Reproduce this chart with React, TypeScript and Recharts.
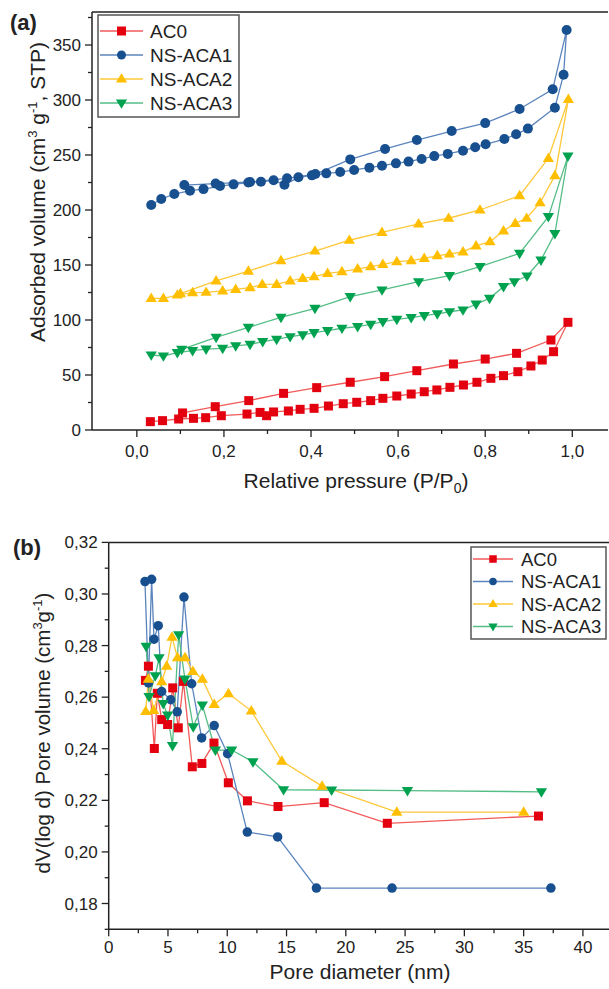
import React from 'react';
import { LineChart, Line, XAxis, YAxis, ReferenceLine, Label } from 'recharts';

const FONT = '"Liberation Sans", Arial, Helvetica, sans-serif';

const seriesNames = ['AC0', 'NS-ACA1', 'NS-ACA2', 'NS-ACA3'];
const markerColors = ['#e3000f', '#174f8f', '#ffbf00', '#00a24f'];
const lineColors = ['#f25a5a', '#5b84bd', '#ffc83a', '#55bd86'];
const markerShapes = ['square', 'circle', 'up', 'down'];

// (a) isotherms: adsorption branch then desorption branch, [P/P0, volume]
const isoAC0: [number, number][] = [
  [0.031, 7.6], [0.059, 8.5], [0.096, 10], [0.13, 10.6], [0.158, 11.2], [0.194, 13], [0.253, 14.5],
  [0.283, 16], [0.298, 13], [0.314, 16.4], [0.348, 17.3], [0.375, 18.8], [0.407, 19.7], [0.44, 21.8],
  [0.474, 23.9], [0.505, 25.2], [0.537, 26.7], [0.565, 28.8], [0.597, 30.9], [0.63, 32.7], [0.66, 34.8],
  [0.689, 36.4], [0.719, 38.8], [0.75, 40.9], [0.781, 43.4], [0.813, 47], [0.842, 49.4], [0.875, 53],
  [0.905, 58.2], [0.931, 63.6], [0.957, 71.2], [0.99, 97.9],
  [0.951, 81.8], [0.872, 69.7], [0.8, 64.5], [0.727, 60], [0.643, 53.9], [0.569, 48.5], [0.49, 43.4],
  [0.413, 38.5], [0.337, 33.3], [0.257, 26.7], [0.18, 21.2], [0.105, 15.5],
];
const isoACA1: [number, number][] = [
  [0.033, 204.5], [0.056, 210], [0.086, 214.5], [0.122, 217.6], [0.153, 219], [0.191, 221.8], [0.222, 223.3],
  [0.256, 225], [0.285, 225.7], [0.314, 227], [0.339, 223], [0.371, 229.7], [0.402, 231.5], [0.435, 233.3],
  [0.467, 234.5], [0.499, 236.4], [0.534, 238.5], [0.563, 240.3], [0.595, 242.4], [0.624, 244], [0.654, 246.4],
  [0.683, 249], [0.714, 251], [0.749, 253.9], [0.777, 257], [0.801, 259.7], [0.844, 264.5], [0.871, 268.8],
  [0.898, 274], [0.96, 293], [0.98, 323], [0.987, 363.6],
  [0.955, 309.7], [0.879, 291.8], [0.8, 279], [0.723, 271.8], [0.643, 263.6], [0.57, 255.5], [0.49, 246],
  [0.41, 232.7], [0.345, 228.8], [0.26, 225.5], [0.181, 224], [0.109, 222.7],
];
const isoACA2: [number, number][] = [
  [0.033, 119.7], [0.061, 119.7], [0.093, 122.7], [0.128, 124.8], [0.159, 125.2], [0.197, 126.4], [0.227, 127.9],
  [0.26, 129.4], [0.288, 132.4], [0.321, 132.4], [0.352, 135.5], [0.381, 137.9], [0.407, 139.4], [0.438, 142.4],
  [0.471, 143.9], [0.507, 146.4], [0.537, 148.5], [0.565, 150.6], [0.597, 153], [0.63, 153.9], [0.66, 156],
  [0.69, 158.5], [0.718, 160], [0.749, 162], [0.779, 167.3], [0.811, 171.2], [0.842, 181], [0.869, 187.9],
  [0.895, 192.5], [0.926, 206.6], [0.96, 231.2], [0.991, 300.6],
  [0.945, 247], [0.879, 213], [0.788, 200], [0.716, 192.5], [0.647, 187.3], [0.563, 179.7], [0.488, 172.5],
  [0.409, 162.7], [0.331, 153.9], [0.256, 144.5], [0.182, 135.5], [0.1, 124],
];
const isoACA3: [number, number][] = [
  [0.033, 68.2], [0.061, 67.3], [0.093, 70.3], [0.128, 72.1], [0.159, 73.6], [0.197, 74.2], [0.227, 76.4],
  [0.26, 77.9], [0.289, 80.3], [0.321, 82.4], [0.352, 84.8], [0.381, 86.4], [0.407, 88.5], [0.438, 90.3],
  [0.471, 92.5], [0.507, 93.9], [0.537, 96.1], [0.565, 98.5], [0.597, 100.6], [0.63, 102.1], [0.66, 103.9],
  [0.69, 105.5], [0.718, 107.5], [0.749, 109.1], [0.779, 114.5], [0.81, 119.7], [0.842, 130.3], [0.867, 134.8],
  [0.896, 140], [0.928, 154.5], [0.96, 178.5], [0.99, 249],
  [0.945, 194], [0.879, 160.6], [0.788, 148.5], [0.718, 140.3], [0.647, 134.8], [0.563, 127.3], [0.49, 121.2],
  [0.409, 110.6], [0.331, 102.4], [0.256, 93.3], [0.182, 84.2], [0.103, 73.3],
];

// (b) pore size distributions, [diameter nm, dV/dlogD]
const psdAC0: [number, number][] = [
  [3.1, 0.2665], [3.35, 0.272], [3.85, 0.2401], [4.1, 0.2615], [4.47, 0.2513], [4.97, 0.2494], [5.4, 0.2636],
  [5.87, 0.2481], [6.3, 0.2661], [7.05, 0.233], [7.86, 0.2343], [8.88, 0.2422], [10.09, 0.2268], [11.7, 0.2198],
  [14.28, 0.2176], [18.18, 0.2191], [23.5, 0.2111], [36.25, 0.2139],
];
const psdACA1: [number, number][] = [
  [3.06, 0.3048], [3.35, 0.2655], [3.62, 0.3057], [3.82, 0.2825], [4.18, 0.2877], [4.47, 0.2622], [5.23, 0.259],
  [5.78, 0.2543], [6.35, 0.2988], [7.0, 0.2652], [7.84, 0.2442], [8.9, 0.249], [10.03, 0.2381], [11.69, 0.2077],
  [14.25, 0.2058], [17.52, 0.186], [23.9, 0.186], [37.3, 0.186],
];
const psdACA2: [number, number][] = [
  [3.12, 0.2545], [3.34, 0.267], [3.79, 0.2549], [4.47, 0.266], [4.89, 0.272], [5.34, 0.2833], [5.8, 0.2753],
  [6.44, 0.2753], [7.1, 0.27], [7.9, 0.267], [8.9, 0.2572], [10.1, 0.2614], [12.03, 0.2547], [14.6, 0.2352],
  [18.0, 0.2255], [24.3, 0.2154], [35.0, 0.2154],
];
const psdACA3: [number, number][] = [
  [3.16, 0.2797], [3.4, 0.2602], [3.93, 0.2683], [4.25, 0.2752], [4.6, 0.2575], [4.97, 0.253], [5.38, 0.2412],
  [5.9, 0.2842], [6.43, 0.267], [7.13, 0.2485], [7.9, 0.2569], [9.0, 0.2395], [10.37, 0.2395], [12.17, 0.2349],
  [14.75, 0.2241], [18.8, 0.224], [25.2, 0.2238], [36.5, 0.2233],
];

const isoSeries = [isoAC0, isoACA1, isoACA2, isoACA3];
const psdSeries = [psdAC0, psdACA1, psdACA2, psdACA3];

const isoXTicks = [0, 0.1, 0.2, 0.3, 0.4, 0.5, 0.6, 0.7, 0.8, 0.9, 1.0];
const isoYTicks = [0, 25, 50, 75, 100, 125, 150, 175, 200, 225, 250, 275, 300, 325, 350, 375];
const psdXTicks = [0, 2.5, 5, 7.5, 10, 12.5, 15, 17.5, 20, 22.5, 25, 27.5, 30, 32.5, 35, 37.5, 40];
const psdYTicks = [0.17, 0.18, 0.19, 0.2, 0.21, 0.22, 0.23, 0.24, 0.25, 0.26, 0.27, 0.28, 0.29, 0.3, 0.31, 0.32];

const toPts = (arr: [number, number][]) => arr.map(([x, y]) => ({ x, y }));

function Marker({ shape, cx, cy, size, color }: any) {
  if (cx == null || cy == null) return null;
  if (shape === 'square') {
    return <rect x={cx - size / 2} y={cy - size / 2} width={size} height={size} fill={color} />;
  }
  if (shape === 'circle') {
    return <circle cx={cx} cy={cy} r={size / 2} fill={color} />;
  }
  const w = size * 1.25;
  const h = size * 1.05;
  if (shape === 'up') {
    return (
      <polygon
        points={`${cx},${cy - h * 0.62} ${cx - w / 2},${cy + h * 0.38} ${cx + w / 2},${cy + h * 0.38}`}
        fill={color}
      />
    );
  }
  return (
    <polygon
      points={`${cx},${cy + h * 0.62} ${cx - w / 2},${cy - h * 0.38} ${cx + w / 2},${cy - h * 0.38}`}
      fill={color}
    />
  );
}

const makeDot = (i: number, size: number) => (p: any) => (
  <Marker key={`d${i}-${p.index}`} shape={markerShapes[i]} cx={p.cx} cy={p.cy} size={size} color={markerColors[i]} />
);

const makeXTick = (isMajor: (v: number) => boolean, fmt: (v: number) => string, labelDy: number) => (p: any) => {
  const { x, y, payload } = p;
  const v = payload.value;
  const major = isMajor(v);
  return (
    <g>
      <line x1={x} x2={x} y1={y} y2={y + (major ? 7 : 4)} stroke="#222" strokeWidth={1.3} />
      {major && (
        <text x={x} y={y + labelDy} textAnchor="middle" fontSize={17} fontFamily={FONT} fill="#222">
          {fmt(v)}
        </text>
      )}
    </g>
  );
};

const makeYTick = (isMajor: (v: number) => boolean, fmt: (v: number) => string) => (p: any) => {
  const { x, y, payload } = p;
  const v = payload.value;
  const major = isMajor(v);
  return (
    <g>
      <line x1={x} x2={x - (major ? 7 : 4)} y1={y} y2={y} stroke="#222" strokeWidth={1.3} />
      {major && (
        <text x={x - 11} y={y + 6} textAnchor="end" fontSize={17} fontFamily={FONT} fill="#222">
          {fmt(v)}
        </text>
      )}
    </g>
  );
};

function LegendBox({ left, top, width, height, rowY, lineX1, lineX2, textX, fontSize, mSize }: any) {
  return (
    <svg
      width={width + 4}
      height={height + 4}
      style={{ position: 'absolute', left: left - 2, top: top - 2, overflow: 'visible' }}
    >
      <rect x={2} y={2} width={width} height={height} fill="#fff" stroke="#555" strokeWidth={1.5} />
      {seriesNames.map((name, i) => {
        const cy = rowY[i] - top + 2;
        return (
          <g key={name}>
            <line x1={lineX1 - left + 2} x2={lineX2 - left + 2} y1={cy} y2={cy} stroke={lineColors[i]} strokeWidth={1.5} />
            <Marker shape={markerShapes[i]} cx={(lineX1 + lineX2) / 2 - left + 2} cy={cy} size={mSize} color={markerColors[i]} />
            <text x={textX - left + 2} y={cy + fontSize * 0.36} fontSize={fontSize} fontFamily={FONT} fill="#222">
              {name}
            </text>
          </g>
        );
      })}
    </svg>
  );
}

const axisLineStyle = { stroke: '#222', strokeWidth: 1.5 };

export default function App() {
  return (
    <div style={{ position: 'absolute', left: 0, top: 0, width: 609, height: 989, background: '#fff', overflow: 'hidden' }}>
      <div style={{ position: 'absolute', left: 0, top: 0 }}>
        <LineChart width={609} height={500} margin={{ top: 12, right: 1, bottom: 30, left: 0 }}>
          <XAxis
            type="number"
            dataKey="x"
            domain={[-0.103, 1.082]}
            allowDataOverflow
            ticks={isoXTicks}
            interval={0}
            tickSize={0}
            tickMargin={0}
            tickLine={false}
            axisLine={axisLineStyle}
            height={40}
            tick={makeXTick((v) => Math.round(v * 10) % 2 === 0, (v) => v.toFixed(1).replace('.', ','), 27)}
          >
            <Label
              content={() => (
                <text x={356} y={488} textAnchor="middle" fontSize={21} fontFamily={FONT} fill="#222">
                  Relative pressure (P/P
                  <tspan dy={5} fontSize={14}>0</tspan>
                  <tspan dy={-5}>)</tspan>
                </text>
              )}
            />
          </XAxis>
          <YAxis
            type="number"
            dataKey="y"
            domain={[0, 380]}
            allowDataOverflow
            ticks={isoYTicks}
            interval={0}
            tickSize={0}
            tickMargin={0}
            tickLine={false}
            axisLine={axisLineStyle}
            width={92}
            tick={makeYTick((v) => v % 50 === 0, (v) => String(v))}
          >
            <Label
              content={() => (
                <g>
                  <text
                    x={0}
                    y={0}
                    transform="translate(45,192) rotate(-90)"
                    textAnchor="middle"
                    fontSize={21}
                    fontFamily={FONT}
                    fill="#222"
                  >
                    Adsorbed volume (cm
                    <tspan dy={-8} fontSize={13}>3</tspan>
                    <tspan dy={8}> g</tspan>
                    <tspan dy={-8} fontSize={13}>-1</tspan>
                    <tspan dy={8}>, STP)</tspan>
                  </text>
                  <text x={10} y={30} fontSize={22} fontWeight="bold" fontFamily={FONT} fill="#222">
                    (a)
                  </text>
                </g>
              )}
            />
          </YAxis>
          <ReferenceLine y={380} stroke="#222" strokeWidth={1.5} />
          {isoSeries.map((arr, i) => (
            <Line
              key={seriesNames[i]}
              data={toPts(arr)}
              dataKey="y"
              name={seriesNames[i]}
              type="linear"
              stroke={lineColors[i]}
              strokeWidth={1.3}
              dot={makeDot(i, i === 1 ? 10 : 9)}
              activeDot={false}
              isAnimationActive={false}
            />
          ))}
        </LineChart>
      </div>

      <div style={{ position: 'absolute', left: 0, top: 500 }}>
        <LineChart width={609} height={489} margin={{ top: 42.4, right: 0, bottom: 19.7, left: 0 }}>
          <XAxis
            type="number"
            dataKey="x"
            domain={[0, 42.2]}
            allowDataOverflow
            ticks={psdXTicks}
            interval={0}
            tickSize={0}
            tickMargin={0}
            tickLine={false}
            axisLine={axisLineStyle}
            height={40}
            tick={makeXTick((v) => v % 5 === 0, (v) => String(v), 24)}
          >
            <Label
              content={() => (
                <text x={360} y={479} textAnchor="middle" fontSize={21} fontFamily={FONT} fill="#222">
                  Pore diameter (nm)
                </text>
              )}
            />
          </XAxis>
          <YAxis
            type="number"
            dataKey="y"
            domain={[0.17, 0.32]}
            allowDataOverflow
            ticks={psdYTicks}
            interval={0}
            tickSize={0}
            tickMargin={0}
            tickLine={false}
            axisLine={axisLineStyle}
            width={108.7}
            tick={makeYTick((v) => Math.round(v * 100) % 2 === 0, (v) => v.toFixed(2).replace('.', ','))}
          >
            <Label
              content={() => (
                <g>
                  <text
                    x={0}
                    y={0}
                    transform="translate(50,233) rotate(-90)"
                    textAnchor="middle"
                    fontSize={20.5}
                    fontFamily={FONT}
                    fill="#222"
                  >
                    dV(log d) Pore volume (cm
                    <tspan dy={-8} fontSize={13}>3</tspan>
                    <tspan dy={8}>g</tspan>
                    <tspan dy={-8} fontSize={13}>-1</tspan>
                    <tspan dy={8}>)</tspan>
                  </text>
                  <text x={13} y={55} fontSize={22} fontWeight="bold" fontFamily={FONT} fill="#222">
                    (b)
                  </text>
                </g>
              )}
            />
          </YAxis>
          <ReferenceLine y={0.32} stroke="#222" strokeWidth={1.5} />
          {psdSeries.map((arr, i) => (
            <Line
              key={seriesNames[i]}
              data={toPts(arr)}
              dataKey="y"
              name={seriesNames[i]}
              type="linear"
              stroke={lineColors[i]}
              strokeWidth={1.3}
              dot={makeDot(i, i === 1 ? 9.5 : 9)}
              activeDot={false}
              isAnimationActive={false}
            />
          ))}
        </LineChart>
      </div>

      <LegendBox
        left={98}
        top={15}
        width={141}
        height={102}
        rowY={[31, 55, 79, 103]}
        lineX1={100}
        lineX2={143}
        textX={150}
        fontSize={19}
        mSize={9}
      />
      <LegendBox
        left={471}
        top={547}
        width={135}
        height={92}
        rowY={[559, 581.5, 604, 626.5]}
        lineX1={473}
        lineX2={513}
        textX={521}
        fontSize={18.5}
        mSize={7.5}
      />
    </div>
  );
}
